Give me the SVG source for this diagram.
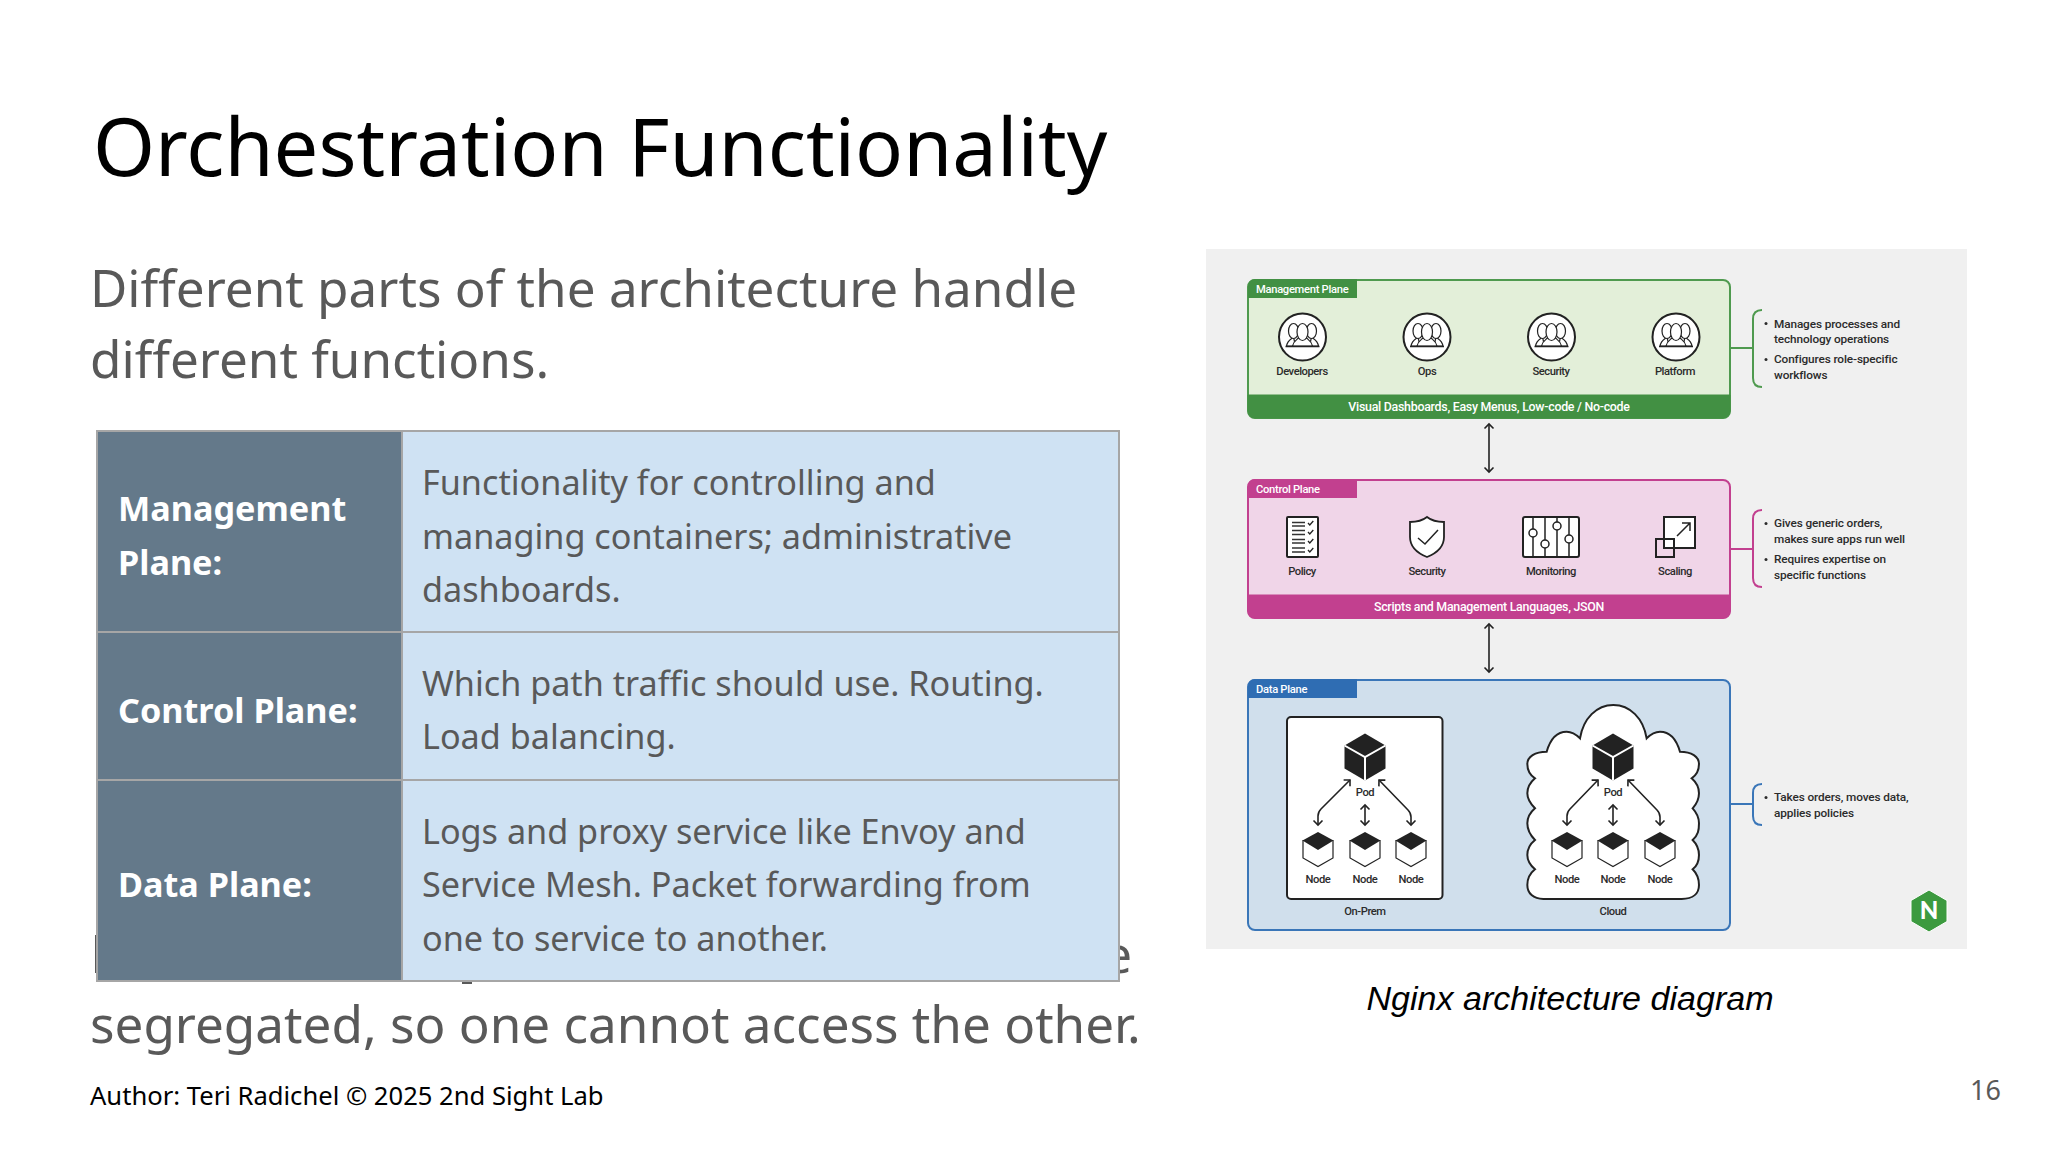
<svg xmlns="http://www.w3.org/2000/svg" xmlns:xlink="http://www.w3.org/1999/xlink" width="2048" height="1152" viewBox="0 0 2048 1152">
<style>
.n{font-family:"Noto Sans","Open Sans",sans-serif}
.sub{font-size:51.2px;fill:#595959}
.cell{font-size:34.2px;fill:#595959}
.head{font-size:34.2px;font-weight:700;fill:#fff}
.l{font-family:Roboto,"Open Sans",sans-serif;font-weight:500}
.lab{font-size:11.2px;fill:#2b2b2b;text-anchor:middle;letter-spacing:-.45px}
.tag{font-size:11.2px;fill:#fff;letter-spacing:-.3px}
.band{font-size:12.4px;fill:#fff;text-anchor:middle;letter-spacing:-.27px}
.note{font-size:11.8px;fill:#2b2b2b;letter-spacing:-.12px}
.ic{fill:none;stroke:#222;stroke-width:2}
.con{fill:none;stroke:#222;stroke-width:1.6;stroke-linejoin:round}
.grid{fill:none;stroke:#a6a6a6;stroke-width:2}
</style>
<defs>
<marker id="ah" markerUnits="userSpaceOnUse" markerWidth="14" markerHeight="14" refX="7" refY="7" orient="auto-start-reverse" overflow="visible"><path d="M2.5 2.5L7 7L2.5 11.500" fill="none" stroke="#222" stroke-width="1.600"/></marker>
<g id="people"><circle r="23.5" fill="#fff" stroke="#222" stroke-width="2"/>
<g fill="#fff" stroke="#222" stroke-width="1.2" stroke-linejoin="round"><path d="M-16 9C-15 3-11 2-9 0L-7 9Z"/><path d="M16 9C15 3 11 2 9 0L7 9Z"/><ellipse cx="-9" cy="-6" rx="5" ry="7.500"/><ellipse cx="9" cy="-6" rx="5" ry="7.500"/><path d="M-10 9C-9 4-6 3-4 1L4 1C6 3 9 4 10 9Z"/><ellipse cy="-5" rx="5.500" ry="8.500"/></g><path d="M-17 9.500H17" stroke="#222" stroke-width="1.400"/></g>
<g id="pod"><path d="M0-23.5L20.5-11.5V11.5L0 23.5L-20.5 11.5V-11.5Z" fill="#222"/><path d="M-20.5-11.5L0 0L20.5-11.5M0 0V23.5" fill="none" stroke="#fff" stroke-width="2"/></g>
<g id="cube"><path d="M15 8.5V26L0 34.5L-15 26V8.5Z" fill="#fff" stroke="#222" stroke-width="1.200"/><path d="M0 0L15.500 8.500L0 18L-15.500 8.500Z" fill="#222"/></g>
</defs>
<rect width="2048" height="1152" fill="#fff"/>
<g id="slide-text">
<text class="n" x="93" y="176" font-size="79.5" fill="#000">Orchestration Functionality</text>
<text class="n sub" x="90" y="307">Different parts of the architecture handle</text>
<text class="n sub" x="90" y="377.500">different functions.</text>
<text class="n sub" x="1132" y="973" text-anchor="end">e</text>
<rect x="95" y="935" width="3" height="38" fill="#595959"/>
<rect x="462" y="978" width="10" height="6" fill="#595959"/>
<text class="n sub" x="90" y="1042.500">segregated, so one cannot access the other.</text>
<text class="n" x="90" y="1105" font-size="25.6" fill="#000">Author: Teri Radichel © 2025 2nd Sight Lab</text>
<text class="n" x="1970" y="1100" font-size="27" fill="#595959">16</text>
<text x="1570" y="1010" font-family="Liberation Sans,Arial,sans-serif" font-style="italic" font-size="34.1" fill="#000" text-anchor="middle">Nginx architecture diagram</text>
</g>
<g id="table">
<rect x="97" y="431" width="305" height="550" fill="#64798a"/>
<rect x="402" y="431" width="717" height="550" fill="#cfe2f3"/>
<path class="grid" d="M97 431H1119V981H97ZM402 431V981M97 632H1119M97 780H1119"/>
<text class="n head"><tspan x="118" y="521">Management</tspan><tspan x="118" y="575">Plane:</tspan></text>
<text class="n head" x="118" y="723">Control Plane:</text>
<text class="n head" x="118" y="897">Data Plane:</text>
<text class="n cell"><tspan x="422" y="495">Functionality for controlling and</tspan><tspan x="422" y="549">managing containers; administrative</tspan><tspan x="422" y="602">dashboards.</tspan></text>
<text class="n cell"><tspan x="422" y="696">Which path traffic should use. Routing.</tspan><tspan x="422" y="749">Load balancing.</tspan></text>
<text class="n cell"><tspan x="422" y="844">Logs and proxy service like Envoy and</tspan><tspan x="422" y="897">Service Mesh. Packet forwarding from</tspan><tspan x="422" y="951">one to service to another.</tspan></text>
</g>
<rect id="panel" x="1206" y="249" width="761" height="700" fill="#f0f0f0"/>
<g id="management-plane">
<rect x="1248" y="280" width="482" height="138" rx="7" fill="#e3efd9" stroke="#4f9a4f" stroke-width="2"/>
<path d="M1248 395H1730V411a7 7 0 0 1-7 7H1255a7 7 0 0 1-7-7Z" fill="#429043" stroke="#429043" stroke-width="1"/>
<path d="M1255 279H1357V298H1248V286a7 7 0 0 1 7-7Z" fill="#429043"/>
<text class="l tag" x="1256" y="293">Management Plane</text>
<text class="l band" x="1489" y="411">Visual Dashboards, Easy Menus, Low-code / No-code</text>
<use xlink:href="#people" href="#people" x="1302.5" y="337"/><use xlink:href="#people" href="#people" x="1427" y="337"/><use xlink:href="#people" href="#people" x="1551.5" y="337"/><use xlink:href="#people" href="#people" x="1676" y="337"/>
<text class="l lab" x="1302" y="375">Developers</text><text class="l lab" x="1427" y="375">Ops</text><text class="l lab" x="1551" y="375">Security</text><text class="l lab" x="1675" y="375">Platform</text>
</g>
<g id="control-plane">
<rect x="1248" y="480" width="482" height="138" rx="7" fill="#f0d5e8" stroke="#c2408f" stroke-width="2"/>
<path d="M1248 595H1730V611a7 7 0 0 1-7 7H1255a7 7 0 0 1-7-7Z" fill="#c2408f" stroke="#c2408f" stroke-width="1"/>
<path d="M1255 479H1357V498H1248V486a7 7 0 0 1 7-7Z" fill="#c2408f"/>
<text class="l tag" x="1256" y="493">Control Plane</text>
<text class="l band" x="1489" y="611">Scripts and Management Languages, JSON</text>
<g id="policy-icon"><rect x="1287" y="517" width="31" height="40" rx="1" fill="#fff" stroke="#222" stroke-width="2"/>
<path d="M1292 522.5H1305M1292 526H1305M1292 530.5H1305M1292 534.500H1305M1292 539.500H1305M1292 543H1305M1292 548H1305M1292 552H1305" stroke="#333" stroke-width="1.400"/>
<path d="M1308 523l1.800 2 3.500-4M1308 532l1.800 2 3.500-4M1308 541l1.800 2 3.500-4M1308 550l1.800 2 3.500-4" fill="none" stroke="#222" stroke-width="1.300"/></g>
<g id="shield-icon"><path d="M1427 517C1432 521 1438 522 1444 522V537C1444 546 1437 553 1427 557C1417 553 1410 546 1410 537V522C1416 522 1422 521 1427 517Z" fill="#fff" stroke="#222" stroke-width="1.800"/><path d="M1418 538L1425 544L1438 530" fill="none" stroke="#222" stroke-width="1.500"/></g>
<g id="monitoring-icon"><rect x="1523" y="517" width="56" height="40" rx="2" fill="#fff" stroke="#222" stroke-width="2"/><path d="M1533 517V557M1545 517V557M1557 517V557M1569 517V557" stroke="#222" stroke-width="1.500"/>
<g fill="#fff" stroke="#222" stroke-width="1.500"><circle cx="1533" cy="533" r="4"/><circle cx="1545" cy="544" r="4"/><circle cx="1557" cy="526" r="4"/><circle cx="1569" cy="539" r="4"/></g></g>
<g id="scaling-icon"><rect x="1664" y="517" width="31" height="31" fill="#fff" stroke="#222" stroke-width="2"/><rect x="1656" y="539" width="18" height="18" fill="none" stroke="#222" stroke-width="2"/><path d="M1677 536L1690 523M1682 523H1690V531" fill="none" stroke="#222" stroke-width="1.500"/></g>
<text class="l lab" x="1302" y="575">Policy</text><text class="l lab" x="1427" y="575">Security</text><text class="l lab" x="1551" y="575">Monitoring</text><text class="l lab" x="1675" y="575">Scaling</text>
</g>
<g id="data-plane">
<rect x="1248" y="680" width="482" height="250" rx="7" fill="#d0dfec" stroke="#3a76b8" stroke-width="2"/>
<path d="M1255 679H1357V698H1248V686a7 7 0 0 1 7-7Z" fill="#2f6db3"/>
<text class="l tag" x="1256" y="693">Data Plane</text>
<g id="on-prem"><rect x="1287" y="717" width="155.500" height="182" rx="4" fill="#fff" stroke="#222" stroke-width="2"/>
<use xlink:href="#pod" href="#pod" x="1365" y="757"/><use xlink:href="#cube" href="#cube" x="1318" y="832"/><use xlink:href="#cube" href="#cube" x="1365" y="832"/><use xlink:href="#cube" href="#cube" x="1411" y="832"/>
<text class="l lab" x="1365" y="796">Pod</text><text class="l lab" x="1318" y="883">Node</text><text class="l lab" x="1365" y="883">Node</text><text class="l lab" x="1411" y="883">Node</text></g>
<text class="l lab" x="1365" y="915">On-Prem</text>
<g id="cloud"><path transform="translate(1500 690) scale(.3333)" d="M130 627H545C580 627 597 610 597 585C597 565 590 550 578 538C595 525 597 510 597 495C597 475 590 462 578 450C595 435 597 420 597 400C597 385 590 368 578 355C592 340 597 325 597 310C597 290 590 278 575 265C590 255 597 240 597 222C597 200 575 185 540 185C530 150 510 125 480 125C465 125 450 135 440 145C430 85 390 45 340 45C290 45 250 85 240 145C230 135 215 125 200 125C170 125 150 150 140 185C105 185 82 200 82 222C82 240 90 255 105 265C90 278 82 290 82 310C82 325 90 340 105 355C90 368 82 385 82 400C82 420 90 435 105 450C90 462 82 475 82 495C82 510 90 525 105 538C90 550 82 565 82 585C82 610 100 627 130 627Z" fill="#fff" stroke="#222" stroke-width="6"/>
<use xlink:href="#pod" href="#pod" x="1613" y="757"/><use xlink:href="#cube" href="#cube" x="1567" y="832"/><use xlink:href="#cube" href="#cube" x="1613" y="832"/><use xlink:href="#cube" href="#cube" x="1660" y="832"/>
<text class="l lab" x="1613" y="796">Pod</text><text class="l lab" x="1567" y="883">Node</text><text class="l lab" x="1613" y="883">Node</text><text class="l lab" x="1660" y="883">Node</text></g>
<text class="l lab" x="1613" y="915">Cloud</text>
</g>
<g id="note-management"><text class="l note"><tspan x="1774" y="327.500">Manages processes and</tspan><tspan x="1774" y="343">technology operations</tspan><tspan x="1774" y="363">Configures role-specific</tspan><tspan x="1774" y="378.500">workflows</tspan></text><circle cx="1766" cy="323.500" r="1.500" fill="#2b2b2b"/><circle cx="1766" cy="359.500" r="1.500" fill="#2b2b2b"/></g>
<g id="note-control"><text class="l note"><tspan x="1774" y="527">Gives generic orders,</tspan><tspan x="1774" y="543">makes sure apps run well</tspan><tspan x="1774" y="563">Requires expertise on</tspan><tspan x="1774" y="578.500">specific functions</tspan></text><circle cx="1766" cy="523.500" r="1.500" fill="#2b2b2b"/><circle cx="1766" cy="559.500" r="1.500" fill="#2b2b2b"/></g>
<g id="note-data"><text class="l note"><tspan x="1774" y="801">Takes orders, moves data,</tspan><tspan x="1774" y="816.500">applies policies</tspan></text><circle cx="1766" cy="797.500" r="1.500" fill="#2b2b2b"/></g>
<g id="connectors">
<path class="con" d="M1489 424V472" marker-start="url(#ah)" marker-end="url(#ah)"/>
<path class="con" d="M1489 624V672" marker-start="url(#ah)" marker-end="url(#ah)"/>
<path class="con" d="M1365 805V825" marker-start="url(#ah)" marker-end="url(#ah)"/>
<path class="con" d="M1613 805V825" marker-start="url(#ah)" marker-end="url(#ah)"/>
<path class="con" d="M1350 780L1321 809Q1318 812 1318 816V825" marker-start="url(#ah)" marker-end="url(#ah)"/>
<path class="con" d="M1379 780L1408 810Q1411 813 1411 817V825" marker-start="url(#ah)" marker-end="url(#ah)"/>
<path class="con" d="M1598 780L1570 809Q1567 812 1567 816V825" marker-start="url(#ah)" marker-end="url(#ah)"/>
<path class="con" d="M1628 780L1657 810Q1660 813 1660 817V825" marker-start="url(#ah)" marker-end="url(#ah)"/>
<path d="M1730 348H1753M1762 310C1756 310 1753 313 1753 319V378C1753 384 1756 387 1762 387" fill="none" stroke="#4f9a4f" stroke-width="2"/>
<path d="M1730 549H1753M1762 510C1756 510 1753 513 1753 519V578C1753 584 1756 587 1762 587" fill="none" stroke="#c2408f" stroke-width="2"/>
<path d="M1730 804H1753M1762 784C1756 784 1753 787 1753 793V816C1753 822 1756 825 1762 825" fill="none" stroke="#3a76b8" stroke-width="2"/>
</g>
<g id="nginx-logo"><path d="M1929 890L1947 900.500V921.500L1929 932L1911 921.500V900.500Z" fill="#3c9a3f" stroke="#fff" stroke-width="1"/><text x="1929" y="919" font-family="Lato,sans-serif" font-weight="900" font-size="24" fill="#fff" text-anchor="middle">N</text></g>
</svg>
